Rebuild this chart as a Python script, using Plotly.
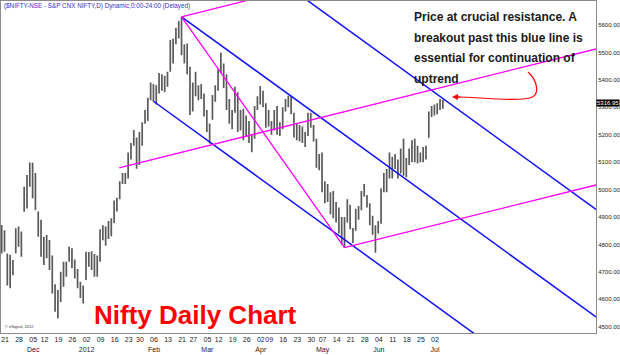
import plotly.graph_objects as go

# ---------------- data ----------------
trading_days = {
    "2011-11": [21, 22, 23, 24, 25, 28, 29, 30],
    "2011-12": [1, 2, 5, 7, 8, 9, 12, 13, 14, 15, 16, 19, 20, 21, 22, 23, 26, 27, 28, 29, 30],
    "2012-01": [2, 3, 4, 5, 6, 9, 10, 11, 12, 13, 16, 17, 18, 19, 20, 23, 24, 25, 27, 30, 31],
    "2012-02": [1, 2, 3, 6, 7, 8, 9, 10, 13, 14, 15, 16, 17, 21, 22, 23, 24, 27, 28, 29],
    "2012-03": [1, 2, 5, 6, 7, 9, 12, 13, 14, 15, 16, 19, 20, 21, 22, 23, 26, 27, 28, 29, 30],
    "2012-04": [2, 3, 4, 9, 10, 11, 12, 13, 16, 17, 18, 19, 20, 23, 24, 25, 26, 27, 30],
    "2012-05": [2, 3, 4, 7, 8, 9, 10, 11, 14, 15, 16, 17, 18, 21, 22, 23, 24, 25, 28, 29, 30, 31],
    "2012-06": [1, 4, 5, 6, 7, 8, 11, 12, 13, 14, 15, 18, 19, 20, 21, 22, 25, 26, 27, 28, 29],
    "2012-07": [2, 3, 4, 5, 6],
}
dates = [f"{m}-{d:02d}" for m, days in trading_days.items() for d in days]

opens = [4860, 4790, 4760, 4680, 4730, 4780, 4855, 4800, 4990, 4940,
         5060, 5030, 5050, 4910, 4870, 4770, 4800, 4770, 4740, 4640,
         4615, 4600, 4690, 4735, 4740, 4780, 4740, 4700, 4650, 4630,
         4675, 4760, 4750, 4740, 4750, 4740, 4850, 4855, 4840, 4860,
         4880, 4950, 4970, 5030, 5040, 5050, 5130, 5170, 5180, 5100,
         5200, 5250, 5270, 5330, 5370, 5340, 5370, 5400, 5385, 5395,
         5440, 5530, 5540, 5570, 5610, 5500, 5490, 5440, 5290, 5390,
         5370, 5350, 5340, 5270, 5210, 5260, 5345, 5370, 5440, 5450,
         5390, 5320, 5250, 5290, 5350, 5230, 5290, 5200, 5240, 5190,
         5190, 5300, 5320, 5355, 5310, 5240, 5220, 5230, 5290, 5210,
         5230, 5300, 5310, 5320, 5270, 5200, 5220, 5210, 5180, 5200,
         5250, 5230, 5180, 5080, 5120, 4990, 4990, 4950, 4950, 4900,
         4930, 4870, 4850, 4900, 4920, 4850, 4860, 4920, 4930, 4990,
         4960, 4940, 4900, 4810, 4860, 4880, 5030, 5010, 5110, 5050,
         5110, 5100, 5060, 5180, 5070, 5110, 5120, 5130, 5150, 5110,
         5125, 5140, 5190, 5285, 5280, 5290, 5305, 5325]
highs = [4871, 4852, 4767, 4762, 4743, 4859, 4865, 4847, 5010, 5053,
         5099, 5098, 5060, 4920, 4890, 4828, 4834, 4816, 4760, 4655,
         4634, 4700, 4737, 4737, 4792, 4786, 4745, 4710, 4664, 4650,
         4773, 4772, 4775, 4765, 4760, 4855, 4870, 4865, 4885, 4895,
         4960, 4970, 5030, 5060, 5060, 5135, 5170, 5217, 5190, 5210,
         5245, 5290, 5335, 5390, 5385, 5380, 5425, 5420, 5415, 5430,
         5545, 5550, 5590, 5615, 5630, 5530, 5533, 5448, 5390, 5430,
         5380, 5385, 5350, 5290, 5241, 5345, 5380, 5440, 5500, 5460,
         5420, 5330, 5290, 5375, 5355, 5290, 5295, 5270, 5250, 5200,
         5305, 5340, 5378, 5360, 5315, 5290, 5250, 5290, 5305, 5245,
         5300, 5330, 5342, 5340, 5280, 5240, 5235, 5230, 5210, 5280,
         5280, 5235, 5185, 5130, 5135, 5030, 5020, 4990, 4995, 4955,
         4935, 4900, 4900, 4965, 4945, 4860, 4930, 4940, 4995, 5020,
         4980, 4950, 4905, 4870, 4885, 5005, 5060, 5075, 5135, 5120,
         5130, 5110, 5150, 5185, 5115, 5150, 5180, 5185, 5160, 5135,
         5155, 5160, 5285, 5305, 5310, 5315, 5330, 5327]
lows = [4767, 4773, 4650, 4640, 4688, 4767, 4792, 4755, 4919, 4931,
        5010, 4968, 4925, 4828, 4755, 4725, 4750, 4707, 4621, 4555,
        4531, 4590, 4646, 4682, 4737, 4713, 4676, 4640, 4605, 4585,
        4670, 4719, 4707, 4682, 4682, 4737, 4815, 4795, 4820, 4830,
        4878, 4920, 4965, 5020, 5020, 5040, 5110, 5160, 5076, 5090,
        5160, 5240, 5250, 5326, 5320, 5310, 5350, 5360, 5355, 5375,
        5430, 5460, 5530, 5551, 5490, 5460, 5420, 5272, 5285, 5340,
        5326, 5330, 5266, 5210, 5168, 5255, 5320, 5360, 5424, 5370,
        5290, 5240, 5220, 5280, 5210, 5215, 5180, 5195, 5170, 5136,
        5185, 5290, 5310, 5300, 5225, 5230, 5200, 5215, 5200, 5195,
        5220, 5285, 5300, 5275, 5190, 5180, 5175, 5170, 5155, 5195,
        5225, 5175, 5080, 5070, 4990, 4950, 4955, 4910, 4895, 4880,
        4840, 4800, 4788, 4880, 4855, 4805, 4850, 4890, 4925, 4975,
        4935, 4870, 4835, 4770, 4840, 4875, 4990, 4990, 5040, 5040,
        5075, 5040, 5060, 5050, 5045, 5090, 5100, 5100, 5095, 5100,
        5100, 5110, 5190, 5265, 5270, 5275, 5290, 5295]
closes = [4778, 4812, 4706, 4756, 4710, 4851, 4805, 4832, 4936, 5050,
          5039, 5062, 4943, 4866, 4764, 4800, 4763, 4746, 4651, 4613,
          4544, 4693, 4733, 4714, 4779, 4750, 4705, 4646, 4624, 4636,
          4765, 4749, 4749, 4754, 4742, 4849, 4860, 4831, 4866, 4873,
          4955, 4955, 5018, 5048, 5046, 5127, 5158, 5204, 5087, 5199,
          5235, 5269, 5325, 5361, 5335, 5368, 5412, 5381, 5390, 5416,
          5532, 5521, 5564, 5607, 5505, 5483, 5429, 5281, 5375, 5385,
          5339, 5359, 5280, 5222, 5220, 5333, 5359, 5429, 5463, 5380,
          5317, 5257, 5274, 5364, 5228, 5278, 5184, 5243, 5194, 5178,
          5296, 5318, 5358, 5322, 5234, 5243, 5227, 5276, 5207, 5226,
          5289, 5300, 5332, 5290, 5200, 5222, 5202, 5189, 5190, 5248,
          5239, 5188, 5087, 5114, 4999, 4974, 4965, 4929, 4907, 4942,
          4858, 4870, 4891, 4906, 4861, 4836, 4921, 4920, 4985, 4990,
          4950, 4924, 4842, 4848, 4863, 4997, 5049, 5068, 5054, 5115,
          5121, 5054, 5139, 5064, 5103, 5120, 5165, 5146, 5114, 5120,
          5141, 5149, 5279, 5278, 5288, 5302, 5327, 5316.95]
last_price = 5316.95

week_starts = ["2011-11-21", "2011-11-28", "2011-12-05", "2011-12-12", "2011-12-19",
               "2011-12-26", "2012-01-02", "2012-01-09", "2012-01-16", "2012-01-23",
               "2012-01-30", "2012-02-06", "2012-02-13", "2012-02-21", "2012-02-27",
               "2012-03-05", "2012-03-12", "2012-03-19", "2012-03-26", "2012-04-02",
               "2012-04-09", "2012-04-16", "2012-04-23", "2012-04-30", "2012-05-07",
               "2012-05-14", "2012-05-21", "2012-05-28", "2012-06-04", "2012-06-11",
               "2012-06-18", "2012-06-25", "2012-07-02"]
month_labels = {"2011-12-05": "Dec", "2012-01-02": "2012", "2012-02-06": "Feb",
                "2012-03-05": "Mar", "2012-04-02": "Apr", "2012-05-07": "May",
                "2012-06-04": "Jun", "2012-07-02": "Jul"}
price_ticks = [4500, 4600, 4700, 4800, 4900, 5000, 5100, 5200, 5300, 5400, 5500, 5600]

# trend lines: (trading-day index, price) pairs
blue_lines = [
    [(64, 5630), (211.5, 4535.6)],     # through Feb peak
    [(54, 5322), (211.5, 4153.4)],     # lower channel
    [(95, 5792), (211.5, 4927.6)],     # upper (resistance)
]
magenta_lines = [
    [(64, 5630), (120, 5773)],         # top, from peak
    [(41.8, 5079), (211.5, 5512.6)],   # middle
    [(122, 4788), (211.5, 5016.7)],    # lower, from May low
    [(64, 5630), (122, 4788)],         # peak -> May low
]

# ---------------- figure ----------------
W, H = 620, 355
PL, PR, PT, PB = 1, 24, 1, 22
PW, PH = W - PL - PR, H - PT - PB
SANS = "Liberation Sans, Arial, sans-serif"


def paper(px, py):
    return (px - PL) / PW, (H - PB - py) / PH


x = list(range(len(dates)))
fig = go.Figure()

for pts in blue_lines:
    fig.add_trace(go.Scatter(x=[p[0] for p in pts], y=[p[1] for p in pts], mode="lines",
                             line=dict(color="#1010ff", width=1.5), hoverinfo="skip",
                             showlegend=False))
for pts in magenta_lines:
    fig.add_trace(go.Scatter(x=[p[0] for p in pts], y=[p[1] for p in pts], mode="lines",
                             line=dict(color="#ff00ff", width=1.3), hoverinfo="skip",
                             showlegend=False))

fig.add_trace(go.Ohlc(x=x, open=opens, high=highs, low=lows, close=closes,
                      increasing=dict(line=dict(color="#5a5a5a", width=1.7)),
                      decreasing=dict(line=dict(color="#5a5a5a", width=1.7)),
                      tickwidth=0.3, hoverinfo="skip", showlegend=False))

label_shift = 1.2
tickvals = [dates.index(d) + label_shift for d in week_starts]
ticktext = [d[-2:] + ("<br>" + month_labels[d] if d in month_labels else "") for d in week_starts]

fig.update_layout(
    width=W, height=H,
    margin=dict(l=PL, r=PR, t=PT, b=PB, pad=0),
    paper_bgcolor="white", plot_bgcolor="white",
    showlegend=False,
    xaxis=dict(range=[-0.25, 211.5], showgrid=False, zeroline=False, showline=True,
               linecolor="#8a8a8a", linewidth=1, mirror=True, ticks="",
               tickvals=tickvals, ticktext=ticktext, tickangle=0,
               tickfont=dict(family=SANS, size=7, color="#222222"),
               rangeslider=dict(visible=False), automargin=False, fixedrange=True),
    yaxis=dict(range=[4477.1, 5687.5], side="right", showgrid=False, zeroline=False,
               showline=True, linecolor="#8a8a8a", linewidth=1, mirror=True, ticks="",
               tickvals=price_ticks, ticktext=[f"{v:.2f}" for v in price_ticks],
               tickfont=dict(family=SANS, size=6, color="#222222"),
               ticklabelstandoff=0, automargin=False, fixedrange=True),
)

# last price marker
fig.add_annotation(xref="paper", yref="y", x=1.0, y=last_price, text=f"{last_price:.2f}",
                   showarrow=False, xanchor="left", yanchor="middle", xshift=0,
                   font=dict(family=SANS, size=6, color="white"),
                   bgcolor="black", borderpad=0)

# top-left symbol title
tx, ty = paper(2, 6)
fig.add_annotation(xref="paper", yref="paper", x=tx, y=ty,
                   text="($NIFTY-NSE - S&P CNX NIFTY,D) Dynamic,0:00-24:00 (Delayed)",
                   showarrow=False, xanchor="left", yanchor="middle",
                   font=dict(family=SANS, size=6.3, color="#3333cc"))

# comment text
comment = ["Price at crucial resistance. A", "breakout past this blue line is",
           "essential for continuation of", "uptrend"]
for i, line in enumerate(comment):
    cx, cy = paper(412, 17 + i * 20.7)
    fig.add_annotation(xref="paper", yref="paper", x=cx, y=cy, text=f"<b>{line}</b>",
                       showarrow=False, xanchor="left", yanchor="middle",
                       font=dict(family=SANS, size=12, color="#1a1a1a"))

# red curved arrow
pts = [(528, 72), (537, 80), (541, 95), (530, 98), (515, 102), (480, 97), (457, 97)]
pp = [paper(*p) for p in pts]
path = "M {} {} C {} {}, {} {}, {} {} C {} {}, {} {}, {} {}".format(
    *[v for p in pp for v in p])
fig.add_shape(type="path", xref="paper", yref="paper", path=path,
              line=dict(color="red", width=1.2))
hx, hy = paper(452, 97)
fig.add_annotation(xref="paper", yref="paper", x=hx, y=hy, ax=10, ay=0, text="",
                   showarrow=True, arrowhead=2, arrowsize=1, arrowwidth=1.2,
                   arrowcolor="red")

# big red title
rx, ry = paper(92, 315)
fig.add_annotation(xref="paper", yref="paper", x=rx, y=ry, text="<b>Nifty Daily Chart</b>",
                   showarrow=False, xanchor="left", yanchor="middle",
                   font=dict(family=SANS, size=26, color="#ff0000"))

# copyright
cx, cy = paper(3, 326)
fig.add_annotation(xref="paper", yref="paper", x=cx, y=cy, text="© eSignal, 2012",
                   showarrow=False, xanchor="left", yanchor="middle",
                   font=dict(family=SANS, size=4, color="#333333"))

fig.write_html("out.html")
